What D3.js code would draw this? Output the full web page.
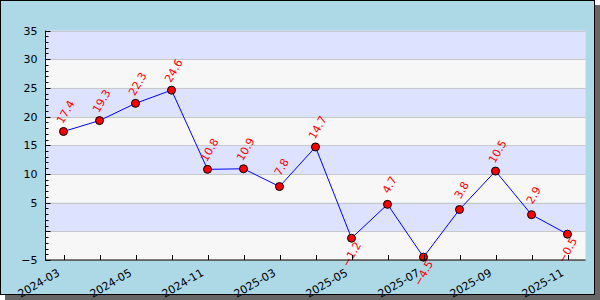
<!DOCTYPE html>
<html>
<head>
<meta charset="utf-8">
<script src="https://cdn.jsdelivr.net/npm/d3@7"></script>
<style>
  html, body { margin: 0; padding: 0; background: #fff; }
  svg { display: block; font-family: 'DejaVu Sans', sans-serif; }
</style>
</head>
<body>
<svg id="chart" width="600" height="300"></svg>
<script>
var months = ['2024-03', '2024-04', '2024-05', '2024-08', '2024-11', '2025-01', '2025-03', '2025-04',
  '2025-05', '2025-06', '2025-07', '2025-08', '2025-09', '2025-10', '2025-11']
var values = [17.4, 19.3, 22.3, 24.6, 10.8, 10.9, 7.8, 14.7, -1.2, 4.7, -4.5, 3.8, 10.5, 2.9, -0.5]
var yTicks = [-5, 0, 5, 10, 15, 20, 25, 30, 35]
var yLabelTicks = [-5, 5, 10, 15, 20, 25, 30, 35]

;(function () {
  'use strict'

  var svg = d3.select('#chart')
  var plot = { left: 45.5, right: 585.5, top: 30.5, bottom: 260 }

  // frame + drop shadow
  svg.append('rect')
    .attr('x', 5).attr('y', 5).attr('width', 595).attr('height', 295)
    .attr('fill', '#666666')
  svg.append('rect')
    .attr('x', 0.5).attr('y', 0.5).attr('width', 594).attr('height', 294)
    .attr('fill', '#add8e6')
    .attr('stroke', '#000')

  var x = d3.scaleBand()
    .domain(d3.range(values.length))
    .range([plot.left, plot.right])
    .padding(0)
  var y = d3.scaleLinear()
    .domain([-5, 35])
    .range([plot.bottom, plot.top])

  function cx (i) {
    return x(i) + x.bandwidth() / 2
  }

  // alternating bands
  var bands = d3.range(yTicks.length - 1)
  svg.append('g').selectAll('rect')
    .data(bands)
    .enter().append('rect')
    .attr('x', plot.left)
    .attr('width', plot.right - plot.left)
    .attr('y', function (i) { return y(yTicks[i + 1]) })
    .attr('height', function (i) { return y(yTicks[i]) - y(yTicks[i + 1]) })
    .attr('fill', function (i) { return i % 2 === 0 ? '#f7f7f7' : '#dde3ff' })

  // grid
  svg.append('g').selectAll('line')
    .data(yTicks)
    .enter().append('line')
    .attr('x1', plot.left).attr('x2', plot.right)
    .attr('y1', function (d) { return Math.round(y(d)) + 0.5 })
    .attr('y2', function (d) { return Math.round(y(d)) + 0.5 })
    .attr('stroke', '#c8c8c8')

  // series line
  var line = d3.line()
    .x(function (d, i) { return cx(i) })
    .y(function (d) { return y(d) })
  svg.append('path')
    .datum(values)
    .attr('d', line)
    .attr('fill', 'none')
    .attr('stroke', '#0000ff')
    .attr('stroke-width', 1)

  svg.append('g').selectAll('circle')
    .data(values)
    .enter().append('circle')
    .attr('cx', function (d, i) { return cx(i) })
    .attr('cy', function (d) { return y(d) })
    .attr('r', 4)
    .attr('fill', '#ff0000')
    .attr('stroke', '#000')
    .attr('stroke-width', 1)

  // value labels
  svg.append('g').selectAll('text')
    .data(values)
    .enter().append('text')
    .attr('transform', function (d, i) {
      var px = cx(i) + (d >= 0 ? 2 : 0)
      var py = y(d) + (d >= 0 ? -19.5 : 16)
      return 'translate(' + px + ',' + py + ') rotate(-60)'
    })
    .attr('text-anchor', 'middle')
    .attr('dy', '0.35em')
    .attr('font-size', 11)
    .attr('fill', '#ff0000')
    .text(function (d) { return d3.format('.1f')(d) })

  // y axis
  var yAxis = d3.axisLeft(y)
    .tickValues(yLabelTicks)
    .tickSize(0)
    .tickPadding(8)
    .tickFormat(d3.format('d'))
  var gy = svg.append('g')
    .attr('transform', 'translate(' + plot.left + ',0)')
    .call(yAxis)
  gy.select('.domain').remove()
  gy.selectAll('text').attr('font-size', 11).attr('font-family', 'DejaVu Sans').attr('fill', '#000')

  var minor = d3.range(-5, 36, 1)
  svg.append('g').selectAll('line')
    .data(minor)
    .enter().append('line')
    .attr('x1', plot.left)
    .attr('x2', function (d) { return plot.left + (d % 5 === 0 ? 5 : 3) })
    .attr('y1', function (d) { return Math.round(y(d)) + 0.5 })
    .attr('y2', function (d) { return Math.round(y(d)) + 0.5 })
    .attr('stroke', '#000')

  // x axis ticks + labels
  svg.append('g').selectAll('line')
    .data(values)
    .enter().append('line')
    .attr('x1', function (d, i) { return Math.round(cx(i)) + 0.5 })
    .attr('x2', function (d, i) { return Math.round(cx(i)) + 0.5 })
    .attr('y1', plot.bottom)
    .attr('y2', plot.bottom - 5)
    .attr('stroke', '#000')

  svg.append('g').selectAll('text')
    .data(months.filter(function (m, i) { return i % 2 === 0 }))
    .enter().append('text')
    .attr('transform', function (d, i) {
      return 'translate(' + (cx(i * 2) - 3) + ',' + (plot.bottom + 15) + ') rotate(-30)'
    })
    .attr('text-anchor', 'end')
    .attr('font-size', 11)
    .attr('fill', '#000')
    .text(function (d) { return d })

  // axis lines
  svg.append('line')
    .attr('x1', plot.left).attr('x2', plot.left)
    .attr('y1', plot.top).attr('y2', plot.bottom + 0.5)
    .attr('stroke', '#000')
  svg.append('line')
    .attr('x1', plot.left).attr('x2', plot.right)
    .attr('y1', plot.bottom).attr('y2', plot.bottom)
    .attr('stroke', '#000')
})()
</script>
</body>
</html>
